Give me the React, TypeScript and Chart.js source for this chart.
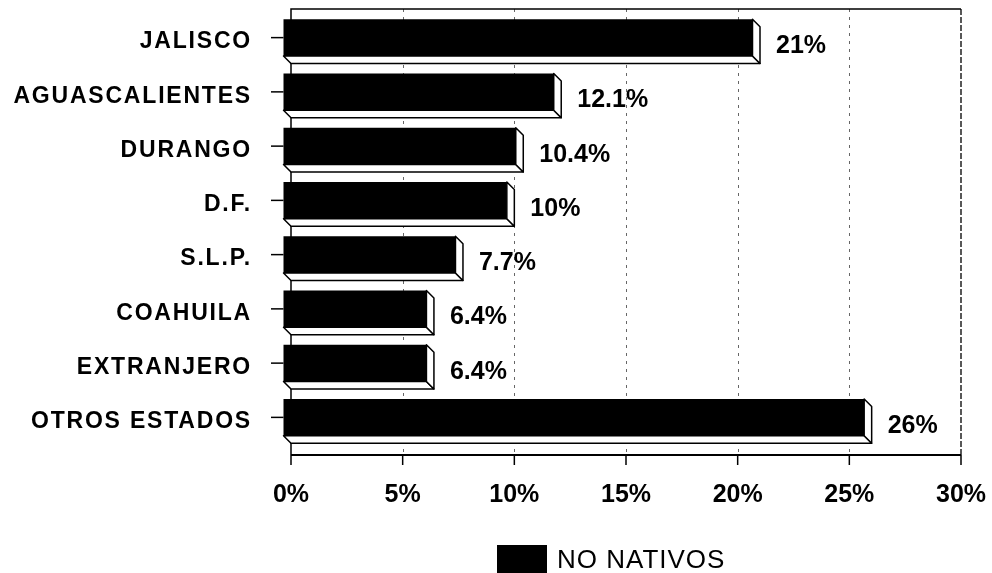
import { useEffect, useRef } from 'react';
import { Chart, registerables } from 'chart.js';

Chart.register(...registerables);

const categories = ['JALISCO', 'AGUASCALIENTES', 'DURANGO', 'D.F.', 'S.L.P.', 'COAHUILA', 'EXTRANJERO', 'OTROS ESTADOS'];
const values = [21, 12.1, 10.4, 10, 7.7, 6.4, 6.4, 26];
const valueLabels = ['21%', '12.1%', '10.4%', '10%', '7.7%', '6.4%', '6.4%', '26%'];
const xMin = 0;
const xMax = 30;
const xStep = 5;
const seriesName = 'NO NATIVOS';

const FONT = '"Liberation Sans", Arial, Helvetica, sans-serif';
const DEPTH = 7.5;

const zeroPadding = (s: any) => {
  s.paddingTop = 0;
  s.paddingBottom = 0;
  s.paddingLeft = 0;
  s.paddingRight = 0;
};

const bars3d = {
  id: 'bars3d',
  beforeDraw(chart: any) {
    chart.ctx.letterSpacing = '1.8px';
  },
  beforeDatasetsDraw(chart: any) {
    const ctx = chart.ctx;
    ctx.letterSpacing = '0px';
    const xs = chart.scales.x;
    const ys = chart.scales.y;
    const left = xs.getPixelForValue(xMin);
    const right = xs.getPixelForValue(xMax);
    const top = chart.chartArea.top - 9;
    const bottom = chart.chartArea.bottom + 3;
    ctx.save();
    // dashed gridlines
    ctx.strokeStyle = '#666';
    ctx.lineWidth = 1;
    ctx.setLineDash([3, 5]);
    for (let t = xMin + xStep; t < xMax; t += xStep) {
      const x = Math.round(xs.getPixelForValue(t)) + 0.5;
      ctx.beginPath();
      ctx.moveTo(x, top);
      ctx.lineTo(x, bottom);
      ctx.stroke();
    }
    // right wall
    ctx.strokeStyle = '#222';
    ctx.lineWidth = 1.5;
    ctx.setLineDash([6, 2]);
    ctx.beginPath();
    ctx.moveTo(right, top);
    ctx.lineTo(right, bottom);
    ctx.stroke();
    ctx.setLineDash([]);
    // top, left and bottom frame
    ctx.strokeStyle = '#000';
    ctx.lineWidth = 1.5;
    ctx.beginPath();
    ctx.moveTo(left, bottom);
    ctx.lineTo(left, top);
    ctx.lineTo(right, top);
    ctx.stroke();
    ctx.lineWidth = 2;
    ctx.beginPath();
    ctx.moveTo(left, bottom);
    ctx.lineTo(right, bottom);
    ctx.stroke();
    // x tick marks
    ctx.lineWidth = 1.5;
    for (let t = xMin; t <= xMax; t += xStep) {
      const x = xs.getPixelForValue(t);
      ctx.beginPath();
      ctx.moveTo(x, bottom);
      ctx.lineTo(x, bottom + 10);
      ctx.stroke();
    }
    // y tick marks at front faces
    categories.forEach((_, i) => {
      const y = ys.getPixelForValue(i) - DEPTH;
      ctx.beginPath();
      ctx.moveTo(left - 20, y);
      ctx.lineTo(left - DEPTH, y);
      ctx.stroke();
    });
    ctx.restore();
    ctx.save();
    ctx.translate(-DEPTH, -DEPTH);
  },
  afterDatasetsDraw(chart: any) {
    const ctx = chart.ctx;
    ctx.restore();
    const meta = chart.getDatasetMeta(0);
    const d = DEPTH;
    meta.data.forEach((bar: any, i: number) => {
      const { x, y, base, height } = bar.getProps(['x', 'y', 'base', 'height'], true);
      const top = y - height / 2;
      const bot = y + height / 2;
      ctx.save();
      ctx.fillStyle = '#fff';
      ctx.strokeStyle = '#000';
      ctx.lineWidth = 1.5;
      ctx.lineJoin = 'round';
      ctx.beginPath();
      ctx.moveTo(base - d, bot - d);
      ctx.lineTo(base, bot);
      ctx.lineTo(x, bot);
      ctx.lineTo(x - d, bot - d);
      ctx.closePath();
      ctx.fill();
      ctx.stroke();
      ctx.beginPath();
      ctx.moveTo(x - d, top - d);
      ctx.lineTo(x, top);
      ctx.lineTo(x, bot);
      ctx.lineTo(x - d, bot - d);
      ctx.closePath();
      ctx.fill();
      ctx.stroke();
      // value label
      ctx.fillStyle = '#000';
      ctx.font = `bold 25px ${FONT}`;
      ctx.textAlign = 'left';
      ctx.textBaseline = 'middle';
      ctx.letterSpacing = '0px';
      ctx.fillText(valueLabels[i], x + 16, y + 1);
      ctx.restore();
    });
  },
  afterDraw(chart: any) {
    const ctx = chart.ctx;
    ctx.save();
    ctx.fillStyle = '#000';
    ctx.fillRect(497, 545, 50, 30);
    ctx.font = `26px ${FONT}`;
    ctx.letterSpacing = '1px';
    ctx.textAlign = 'left';
    ctx.textBaseline = 'middle';
    ctx.fillText(chart.data.datasets[0].label, 557, 561);
    ctx.restore();
  },
};

export default function App() {
  const ref = useRef<HTMLCanvasElement | null>(null);
  useEffect(() => {
    if (!ref.current) return;
    const chart = new Chart(ref.current, {
      type: 'bar',
      data: {
        labels: categories,
        datasets: [
          {
            label: seriesName,
            data: values,
            backgroundColor: '#000',
            borderWidth: 0,
            barPercentage: 0.68,
            categoryPercentage: 1,
            clip: false as any,
          },
        ],
      },
      options: {
        indexAxis: 'y',
        animation: false,
        responsive: false,
        layout: { autoPadding: false, padding: { top: 18, right: 31, bottom: 0, left: 0 } },
        plugins: { legend: { display: false }, tooltip: { enabled: false } },
        scales: {
          x: {
            min: xMin,
            max: xMax,
            ticks: {
              stepSize: xStep,
              callback: (v: any) => `${v}%`,
              font: { family: FONT, size: 25, weight: 'bold' },
              color: '#000',
              padding: 28,
              z: 1,
              maxRotation: 0,
              autoSkip: false,
            },
            grid: { display: false, drawTicks: false, tickLength: 0 },
            border: { display: false },
            afterFit: (s: any) => {
              s.height = 121;
              zeroPadding(s);
            },
          },
          y: {
            ticks: {
              font: { family: FONT, size: 23, weight: 'bold' },
              color: '#000',
              padding: 39,
              labelOffset: -3,
            },
            grid: { display: false, drawTicks: false, tickLength: 0 },
            border: { display: false },
            afterFit: (s: any) => {
              s.width = 291;
              zeroPadding(s);
            },
          },
        },
      } as any,
      plugins: [bars3d],
    });
    return () => chart.destroy();
  }, []);
  return (
    <div style={{ position: 'absolute', left: 0, top: 0, width: 992, height: 573, background: '#fff' }}>
      <canvas ref={ref} width={992} height={573} style={{ width: 992, height: 573, display: 'block' }} />
    </div>
  );
}
